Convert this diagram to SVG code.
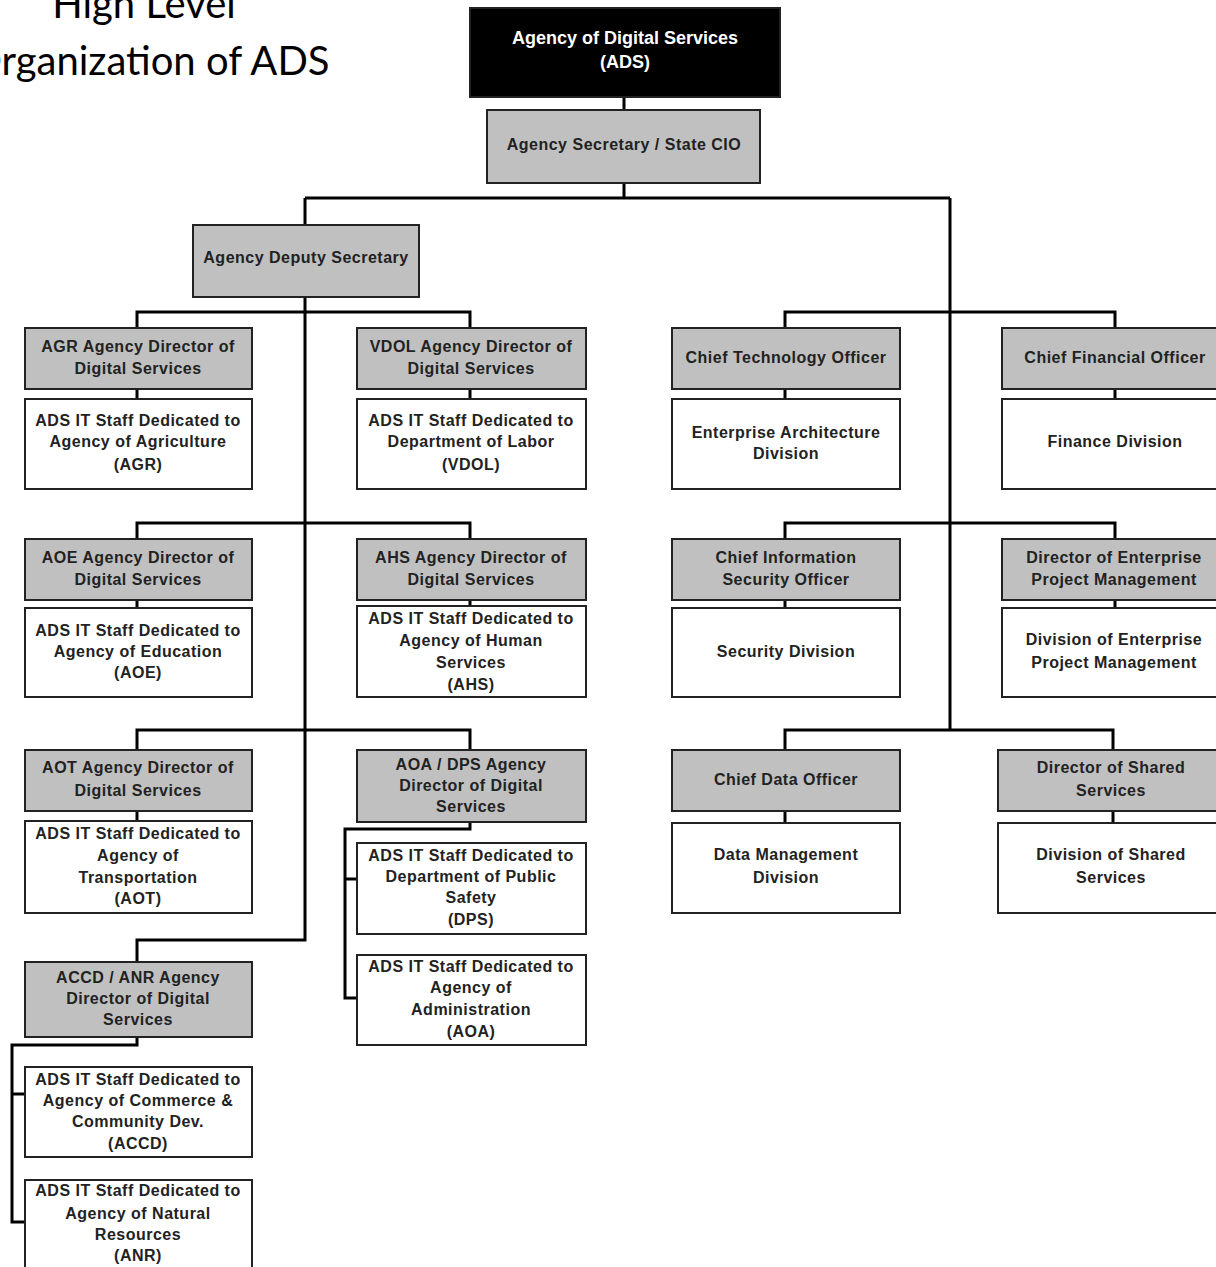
<svg xmlns="http://www.w3.org/2000/svg" width="1216" height="1267" viewBox="0 0 1216 1267">
<style>
text{font-family:"Liberation Sans",Arial,sans-serif;font-weight:bold;font-size:16px;letter-spacing:0.5px;fill:#222;text-anchor:middle}
.title{font-family:Lato,"Liberation Sans",sans-serif;font-weight:normal;font-size:40px;letter-spacing:0;fill:#000}
.top text{fill:#fff;font-size:18px;letter-spacing:0}
.g rect{fill:#c0c0c0;stroke:#222;stroke-width:2}
.w rect{fill:#fff;stroke:#222;stroke-width:2}
.top rect{fill:#000;stroke:#222;stroke-width:2}
#connectors path{fill:none;stroke:#000;stroke-width:3}
</style>
<rect width="1216" height="1267" fill="#fff"/>
<g id="title">
<text class="title" x="144" y="18">High Level</text>
<text class="title" x="-30" y="75" style="text-anchor:start">Organization of ADS</text>
</g>
<g id="connectors">
<path d="M624,97V110"/>
<path d="M624,183V198M305,198H950M305,198V225M950,198V730"/>
<path d="M305,297V940H137V962"/>
<path d="M137,328V312H470V328M137,389V399M470,389V399"/>
<path d="M137,539V523H470V539M137,600V608M470,600V606"/>
<path d="M137,750V730H470V750M137,811V821"/>
<path d="M470,822V829H345V998H357M345,879H357"/>
<path d="M137,1037V1045H12V1222H25M12,1094H25"/>
<path d="M785,328V312H1115V328M785,389V399M1115,389V399"/>
<path d="M785,539V523H1115V539M785,600V608M1115,600V608"/>
<path d="M785,750V730H1113V750M785,811V823M1113,811V823"/>
</g>
<g id="ads" class="top"><rect x="470" y="8" width="310" height="89"/><text x="625" y="44">Agency of Digital Services</text><text x="625" y="68">(ADS)</text></g>
<g id="secretary" class="g"><rect x="487" y="110" width="273" height="73"/><text x="624" y="150">Agency Secretary / State CIO</text></g>
<g id="deputy" class="g"><rect x="193" y="225" width="226" height="72"/><text x="306" y="263">Agency Deputy Secretary</text></g>

<g id="agr-dir" class="g"><rect x="25" y="328" width="227" height="61"/><text x="138" y="352">AGR Agency Director of</text><text x="138" y="374">Digital Services</text></g>
<g id="agr-staff" class="w"><rect x="25" y="399" width="227" height="90"/><text x="138" y="426">ADS IT Staff Dedicated to</text><text x="138" y="447">Agency of Agriculture</text><text x="138" y="470">(AGR)</text></g>
<g id="vdol-dir" class="g"><rect x="357" y="328" width="229" height="61"/><text x="471" y="352">VDOL Agency Director of</text><text x="471" y="374">Digital Services</text></g>
<g id="vdol-staff" class="w"><rect x="357" y="399" width="229" height="90"/><text x="471" y="426">ADS IT Staff Dedicated to</text><text x="471" y="447">Department of Labor</text><text x="471" y="470">(VDOL)</text></g>

<g id="aoe-dir" class="g"><rect x="25" y="539" width="227" height="61"/><text x="138" y="563">AOE Agency Director of</text><text x="138" y="585">Digital Services</text></g>
<g id="aoe-staff" class="w"><rect x="25" y="608" width="227" height="89"/><text x="138" y="636">ADS IT Staff Dedicated to</text><text x="138" y="657">Agency of Education</text><text x="138" y="678">(AOE)</text></g>
<g id="ahs-dir" class="g"><rect x="357" y="539" width="229" height="61"/><text x="471" y="563">AHS Agency Director of</text><text x="471" y="585">Digital Services</text></g>
<g id="ahs-staff" class="w"><rect x="357" y="606" width="229" height="91"/><text x="471" y="624">ADS IT Staff Dedicated to</text><text x="471" y="646">Agency of Human</text><text x="471" y="668">Services</text><text x="471" y="690">(AHS)</text></g>

<g id="aot-dir" class="g"><rect x="25" y="750" width="227" height="61"/><text x="138" y="773">AOT Agency Director of</text><text x="138" y="796">Digital Services</text></g>
<g id="aot-staff" class="w"><rect x="25" y="821" width="227" height="92"/><text x="138" y="839">ADS IT Staff Dedicated to</text><text x="138" y="861">Agency of</text><text x="138" y="883">Transportation</text><text x="138" y="904">(AOT)</text></g>
<g id="aoa-dps-dir" class="g"><rect x="357" y="750" width="229" height="72"/><text x="471" y="770">AOA / DPS Agency</text><text x="471" y="791">Director of Digital</text><text x="471" y="812">Services</text></g>
<g id="dps-staff" class="w"><rect x="357" y="843" width="229" height="91"/><text x="471" y="861">ADS IT Staff Dedicated to</text><text x="471" y="882">Department of Public</text><text x="471" y="903">Safety</text><text x="471" y="925">(DPS)</text></g>
<g id="aoa-staff" class="w"><rect x="357" y="955" width="229" height="90"/><text x="471" y="972">ADS IT Staff Dedicated to</text><text x="471" y="993">Agency of</text><text x="471" y="1015">Administration</text><text x="471" y="1037">(AOA)</text></g>

<g id="accd-anr-dir" class="g"><rect x="25" y="962" width="227" height="75"/><text x="138" y="983">ACCD / ANR Agency</text><text x="138" y="1004">Director of Digital</text><text x="138" y="1025">Services</text></g>
<g id="accd-staff" class="w"><rect x="25" y="1067" width="227" height="90"/><text x="138" y="1085">ADS IT Staff Dedicated to</text><text x="138" y="1106">Agency of Commerce &amp;</text><text x="138" y="1127">Community Dev.</text><text x="138" y="1149">(ACCD)</text></g>
<g id="anr-staff" class="w"><rect x="25" y="1180" width="227" height="90"/><text x="138" y="1196">ADS IT Staff Dedicated to</text><text x="138" y="1219">Agency of Natural</text><text x="138" y="1240">Resources</text><text x="138" y="1261">(ANR)</text></g>

<g id="cto" class="g"><rect x="672" y="328" width="228" height="61"/><text x="786" y="363">Chief Technology Officer</text></g>
<g id="ea-div" class="w"><rect x="672" y="399" width="228" height="90"/><text x="786" y="438">Enterprise Architecture</text><text x="786" y="459">Division</text></g>
<g id="cfo" class="g"><rect x="1002" y="328" width="228" height="61"/><text x="1115" y="363">Chief Financial Officer</text></g>
<g id="finance-div" class="w"><rect x="1002" y="399" width="228" height="90"/><text x="1115" y="447">Finance Division</text></g>

<g id="ciso" class="g"><rect x="672" y="539" width="228" height="61"/><text x="786" y="563">Chief Information</text><text x="786" y="585">Security Officer</text></g>
<g id="security-div" class="w"><rect x="672" y="608" width="228" height="89"/><text x="786" y="657">Security Division</text></g>
<g id="dir-epm" class="g"><rect x="1002" y="539" width="228" height="61"/><text x="1114" y="563">Director of Enterprise</text><text x="1114" y="585">Project Management</text></g>
<g id="div-epm" class="w"><rect x="1002" y="608" width="228" height="89"/><text x="1114" y="645">Division of Enterprise</text><text x="1114" y="668">Project Management</text></g>

<g id="cdo" class="g"><rect x="672" y="750" width="228" height="61"/><text x="786" y="785">Chief Data Officer</text></g>
<g id="data-div" class="w"><rect x="672" y="823" width="228" height="90"/><text x="786" y="860">Data Management</text><text x="786" y="883">Division</text></g>
<g id="dir-shared" class="g"><rect x="998" y="750" width="232" height="61"/><text x="1111" y="773">Director of Shared</text><text x="1111" y="796">Services</text></g>
<g id="div-shared" class="w"><rect x="998" y="823" width="232" height="90"/><text x="1111" y="860">Division of Shared</text><text x="1111" y="883">Services</text></g>
</svg>
